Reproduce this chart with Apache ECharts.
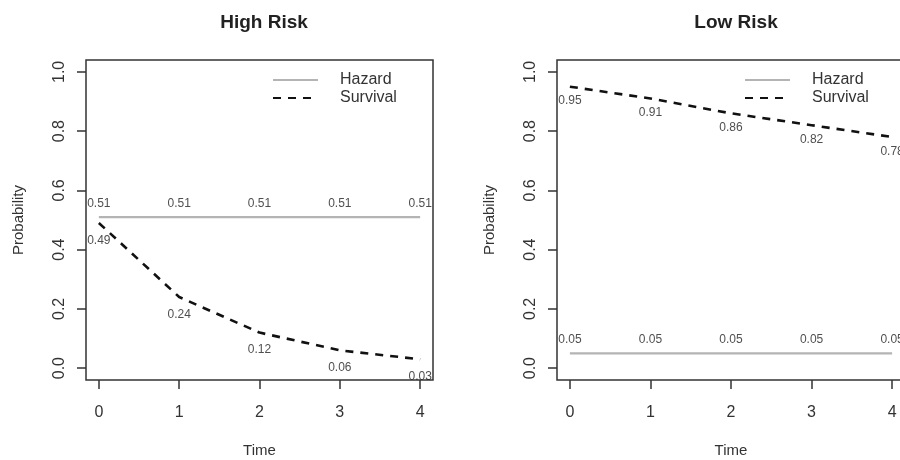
<!DOCTYPE html>
<html>
<head>
<meta charset="utf-8">
<script src="https://cdn.jsdelivr.net/npm/echarts@6/dist/echarts.min.js"></script>
<style>
  html, body { margin: 0; padding: 0; background: #fff; }
  #chart { width: 900px; height: 460px; }
</style>
</head>
<body>
<div id="chart"></div>
<script>
// ── data ─────────────────────────────────────────────
const times        = [0, 1, 2, 3, 4]
const highHazard   = [0.51, 0.51, 0.51, 0.51, 0.51]
const highSurvival = [0.49, 0.24, 0.12, 0.06, 0.03]
const lowHazard    = [0.05, 0.05, 0.05, 0.05, 0.05]
const lowSurvival  = [0.95, 0.91, 0.86, 0.82, 0.78]
const xTicks = [0, 1, 2, 3, 4]
const yTicks = [0, 0.2, 0.4, 0.6, 0.8, 1.0]
const panelTitles = ['High Risk', 'Low Risk']

const FONT = 'Liberation Sans, Arial, sans-serif'
const INK  = '#333'
const HAZ  = '#b4b4b4'

const pairs = (ys) => times.map((t, i) => [t, ys[i]])

const xAxisFor = (gridIndex) => ({
  type: 'value',
  gridIndex,
  min: -0.16,
  max: 4.16,
  name: 'Time',
  nameLocation: 'middle',
  nameGap: 63,
  nameTextStyle: { fontSize: 15, color: INK, fontFamily: FONT },
  axisLine: { show: false, onZero: false },
  splitLine: { show: false },
  axisTick: { show: true, length: 9, customValues: xTicks, lineStyle: { color: INK, width: 1.5 } },
  axisLabel: { customValues: xTicks, margin: 25, fontSize: 16, color: INK, fontFamily: FONT },
})

const yAxisFor = (gridIndex) => ({
  type: 'value',
  gridIndex,
  min: -0.04,
  max: 1.04,
  name: 'Probability',
  nameLocation: 'middle',
  nameGap: 60,
  nameTextStyle: { fontSize: 15, color: INK, fontFamily: FONT },
  axisLine: { show: false, onZero: false },
  splitLine: { show: false },
  axisTick: { show: true, length: 9, customValues: yTicks, lineStyle: { color: INK, width: 1.5 } },
  axisLabel: {
    customValues: yTicks, rotate: 90, margin: 18, fontSize: 16, color: INK, fontFamily: FONT,
    formatter: v => v.toFixed(1),
  },
})

const lineSeries = (name, ys, idx) => ({
  name,
  type: 'line',
  xAxisIndex: idx,
  yAxisIndex: idx,
  data: pairs(ys),
  symbol: 'none',
  silent: true,
  lineStyle: name === 'Hazard'
    ? { color: HAZ, width: 2.2 }
    : { color: '#111', width: 2.6, type: [8, 7] },
  itemStyle: { color: name === 'Hazard' ? HAZ : '#111' },
  z: name === 'Hazard' ? 2 : 3,
})

const labelSeries = (ys, idx, pos, dist) => ({
  type: 'scatter',
  xAxisIndex: idx,
  yAxisIndex: idx,
  data: pairs(ys),
  symbolSize: 1,
  silent: true,
  itemStyle: { color: 'transparent' },
  label: {
    show: true,
    position: pos,
    distance: dist,
    fontSize: 12,
    color: '#222',
    fontFamily: FONT,
    formatter: p => p.value[1].toFixed(2),
  },
  z: 5,
})

const legendFor = (left) => ({
  left,
  top: 72,
  padding: 0,
  orient: 'vertical',
  itemWidth: 45,
  itemHeight: 12,
  itemGap: 2,
  selectedMode: false,
  itemStyle: { opacity: 0 },
  data: ['Hazard', 'Survival'],
  textStyle: { fontSize: 16, lineHeight: 16, color: INK, fontFamily: FONT, padding: [0, 0, 0, 17] },
})

const option = {
  animation: false,
  backgroundColor: '#fff',
  title: [
    { text: panelTitles[0], left: 259, top: 8, textAlign: 'center',
      textStyle: { fontSize: 19, fontWeight: 'bold', color: '#222', fontFamily: FONT } },
    { text: panelTitles[1], left: 731, top: 8, textAlign: 'center',
      textStyle: { fontSize: 19, fontWeight: 'bold', color: '#222', fontFamily: FONT } },
  ],
  legend: [legendFor(272), legendFor(744)],
  grid: [
    { left: 86, top: 60, width: 347, height: 320, show: true, borderColor: INK, borderWidth: 1.5,
      outerBoundsMode: 'none', containLabel: false },
    { left: 557, top: 60, width: 348, height: 320, show: true, borderColor: INK, borderWidth: 1.5,
      outerBoundsMode: 'none', containLabel: false },
  ],
  xAxis: [xAxisFor(0), xAxisFor(1)],
  yAxis: [yAxisFor(0), yAxisFor(1)],
  series: [
    lineSeries('Hazard', highHazard, 0),
    lineSeries('Survival', highSurvival, 0),
    labelSeries(highHazard, 0, 'top', 7),
    labelSeries(highSurvival, 0, 'bottom', 11),
    lineSeries('Hazard', lowHazard, 1),
    lineSeries('Survival', lowSurvival, 1),
    labelSeries(lowHazard, 1, 'top', 7),
    labelSeries(lowSurvival, 1, 'bottom', 8),
  ],
}

const chart = echarts.init(document.getElementById('chart'), null, { renderer: 'canvas' })
chart.setOption(option)
</script>
</body>
</html>
